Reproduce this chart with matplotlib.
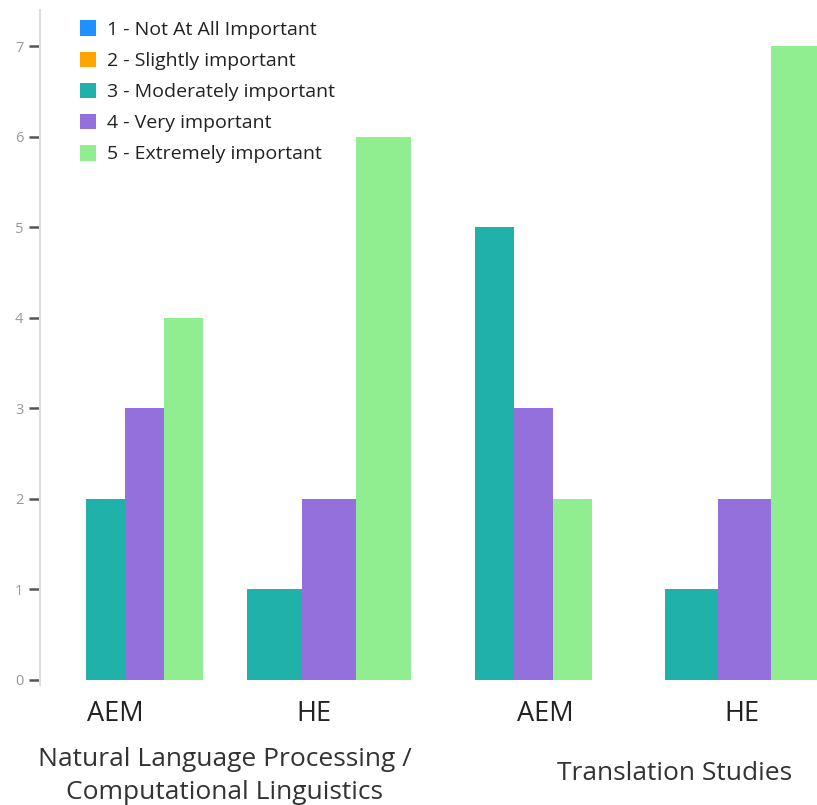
import matplotlib
matplotlib.use("Agg")
import matplotlib.pyplot as plt
from matplotlib.patches import Patch

plt.rcParams['font.family'] = ['Open Sans', 'DejaVu Sans']

# Survey responses: importance ratings by field and evaluation type
ratings = ["1 - Not At All Important", "2 - Slightly important",
           "3 - Moderately important", "4 - Very important",
           "5 - Extremely important"]
colors = ["#1E90FF", "#FFA500", "#20B2AA", "#9370DB", "#90EE90"]

groups = ["AEM", "HE", "AEM", "HE"]
fields = ["Natural Language Processing /\nComputational Linguistics",
          "Translation Studies"]

# counts for ratings 3, 4, 5 (ratings 1 and 2 received no responses)
moderately = [2, 1, 5, 1]
very = [3, 2, 3, 2]
extremely = [4, 6, 2, 7]

W, H = 817, 805
fig = plt.figure(figsize=(W / 100, H / 100), dpi=100)

# axes box in pixel terms
ax_left, ax_right = 40, 817
ax_top, ax_bottom = 10, 684.5
ax = fig.add_axes([ax_left / W, 1 - ax_bottom / H,
                   (ax_right - ax_left) / W, (ax_bottom - ax_top) / H])

# group layout along x (in pixel-like units of the axes)
centers = [104.5, 289, 493.5, 704.5]
widths = [39, 54.7, 39, 53]
label_x = [75, 274, 505, 702]

series = [moderately, very, extremely]
for k, vals in enumerate(series):
    xs = [c + (k - 1) * w for c, w in zip(centers, widths)]
    ax.bar(xs, vals, width=widths, color=colors[k + 2], linewidth=0)

ax.set_xlim(0, ax_right - ax_left)
ax.set_ylim(-0.05, 7.4)
ax.set_yticks(range(0, 8))
ax.tick_params(axis='y', length=8, width=1.8, color='#555555',
               labelcolor='#999999', labelsize=10.5, pad=4)
ax.set_xticks([])
for side in ['top', 'right', 'bottom']:
    ax.spines[side].set_visible(False)
ax.spines['left'].set_color('#dddddd')
ax.spines['left'].set_linewidth(1.5)

# subgroup labels under each cluster
for x, g in zip(label_x, groups):
    fig.text((x + ax_left) / W, 1 - 714 / H, g, ha='center', va='center',
             fontsize=19.5, color='#222222')

# field labels
fig.text(225 / W, 1 - 776 / H, fields[0], ha='center', va='center',
         fontsize=19, color='#333333', linespacing=1.45)
fig.text(675 / W, 1 - 773 / H, fields[1], ha='center', va='center',
         fontsize=19, color='#333333')

handles = [Patch(facecolor=c, edgecolor='none') for c in colors]
fig.legend(handles, ratings, loc='upper left',
           bbox_to_anchor=(62 / W, 1 - 3 / H), frameon=False,
           fontsize=14, handlelength=0.85, handleheight=0.85,
           handletextpad=0.55, labelspacing=0.65, labelcolor='#222222')

fig.savefig("out.png", dpi=100)
